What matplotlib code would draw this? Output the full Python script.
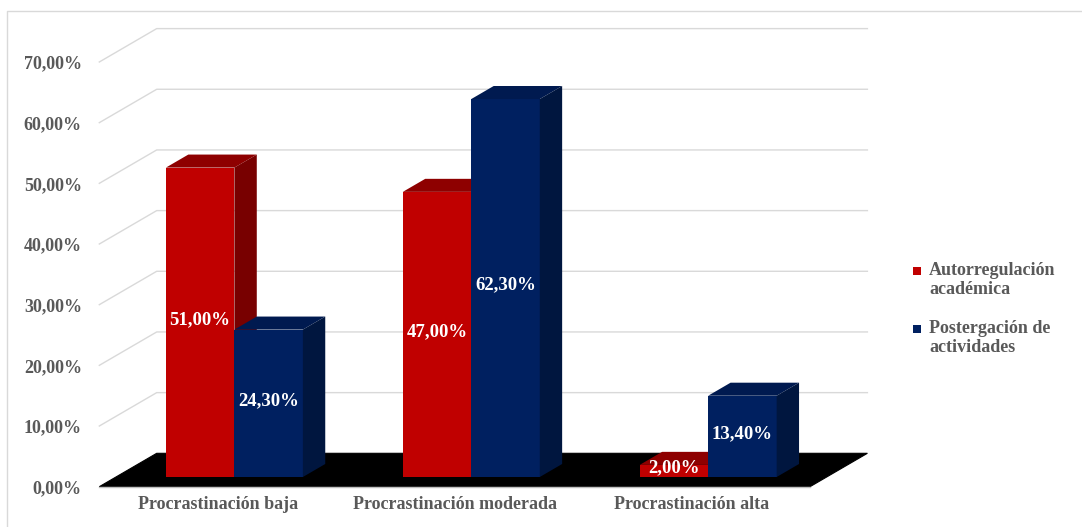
import matplotlib
matplotlib.use("Agg")
import matplotlib.pyplot as plt
from matplotlib.patches import Polygon, Rectangle
from matplotlib.lines import Line2D
import textwrap

# ---------------- data ----------------
categories = ["Procrastinación baja", "Procrastinación moderada", "Procrastinación alta"]
series_names = ["Autorregulación académica", "Postergación de actividades"]
autorregulacion = [0.51, 0.47, 0.02]
postergacion = [0.243, 0.623, 0.134]
y_ticks = [0.0, 0.1, 0.2, 0.3, 0.4, 0.5, 0.6, 0.7]
y_tick_labels = ["0,00%", "10,00%", "20,00%", "30,00%", "40,00%", "50,00%", "60,00%", "70,00%"]

series_values = [autorregulacion, postergacion]
front_colors = ["#C00000", "#002060"]
top_colors = ["#8E0000", "#001A50"]
side_colors = ["#780000", "#00163F"]

FONT = ["Liberation Serif", "DejaVu Serif"]
TXT = "#595959"
GRID = "#D9D9D9"

W, H = 1082, 527
fig = plt.figure(figsize=(W / 100, H / 100), dpi=100)
fig.patch.set_facecolor("white")

# front plane of the 3-D box
left_px, right_px = 99.3, 810.0
bot_px, top_px = 527 - 486.7, 527 - 62.0
ax = fig.add_axes([left_px / W, bot_px / H, (right_px - left_px) / W, (top_px - bot_px) / H])
ax.set_xlim(0, len(categories))
ax.set_ylim(0, 0.7)
ax.set_facecolor("none")
for sp in ax.spines.values():
    sp.set_visible(False)

# depth offsets in data units
cat_px = (right_px - left_px) / len(categories)
val_px = (top_px - bot_px) / 0.7
DX = 57.4 / cat_px
DY = 33.4 / val_px
f0, f1 = 0.29, 0.68   # bar front / back depth fractions
bw = 0.289            # bar width (category units)
ncat = len(categories)

# back-wall grid lines
for t in y_ticks[1:]:
    ax.plot([0, DX, ncat + DX], [t, t + DY, t + DY], color=GRID, lw=1.0,
            clip_on=False, zorder=1)

# floor
ax.add_patch(Polygon([(0, 0), (ncat, 0), (ncat + DX, DY), (DX, DY)], closed=True,
                     facecolor="black", edgecolor="black", lw=0.8, clip_on=False, zorder=2))
ax.plot([0, ncat], [0, 0], color="#BFBFBF", lw=1.0, clip_on=False, zorder=2.5)

# bars
for s, vals in enumerate(series_values):
    xl = [i + 0.5 - bw + s * bw for i in range(ncat)]
    bars = ax.bar([x + f0 * DX for x in xl], vals, width=bw, bottom=f0 * DY,
                  align="edge", color=front_colors[s], edgecolor="none", clip_on=False)
    for i, (patch, x, v) in enumerate(zip(bars.patches, xl, vals)):
        z = 10 + i * 10 + s * 4
        patch.set_zorder(z)
        top = Polygon([(x + f0 * DX, v + f0 * DY), (x + bw + f0 * DX, v + f0 * DY),
                       (x + bw + f1 * DX, v + f1 * DY), (x + f1 * DX, v + f1 * DY)],
                      closed=True, facecolor=top_colors[s], edgecolor="none",
                      clip_on=False, zorder=z + 1)
        side = Polygon([(x + bw + f0 * DX, f0 * DY), (x + bw + f1 * DX, f1 * DY),
                        (x + bw + f1 * DX, v + f1 * DY), (x + bw + f0 * DX, v + f0 * DY)],
                       closed=True, facecolor=side_colors[s], edgecolor="none",
                       clip_on=False, zorder=z + 2)
        ax.add_patch(top)
        ax.add_patch(side)
        lab = f"{v * 100:.2f}%".replace(".", ",")
        ax.text(x + bw / 2 + f0 * DX, v / 2 + f0 * DY + 3 / val_px, lab,
                ha="center", va="center", color="white", fontsize=13.5,
                fontweight="bold", family=FONT, zorder=200, clip_on=False)

# ticks
ax.set_yticks(y_ticks, y_tick_labels)
ax.set_xticks([i + 0.5 for i in range(ncat)], categories)
ax.tick_params(axis="y", length=0, pad=12.5, labelsize=13, labelcolor=TXT)
ax.tick_params(axis="x", length=0, pad=7, labelsize=13, labelcolor=TXT)
for lbl in ax.get_xticklabels() + ax.get_yticklabels():
    lbl.set_fontweight("bold")
    lbl.set_family(FONT)

# legend (manual)
leg_y = [280, 338]
sq_y = [271, 329]
for s, name in enumerate(series_names):
    fig.patches.append(Rectangle(((913) / W, (527 - sq_y[s] - 4) / H), 8 / W, 8 / H,
                                 transform=fig.transFigure, facecolor=front_colors[s],
                                 edgecolor="none"))
    fig.text(929 / W, (527 - leg_y[s]) / H, "\n".join(textwrap.wrap(name, 16)),
             ha="left", va="center", color=TXT, fontsize=13, fontweight="bold",
             family=FONT, linespacing=1.1)

# outer border (left and top)
fig.add_artist(Line2D([7 / W, 7 / W, 1.0], [0.0, (527 - 11) / H, (527 - 11) / H],
                      transform=fig.transFigure, color=GRID, lw=1.0))

fig.savefig("out.png", dpi=100)
